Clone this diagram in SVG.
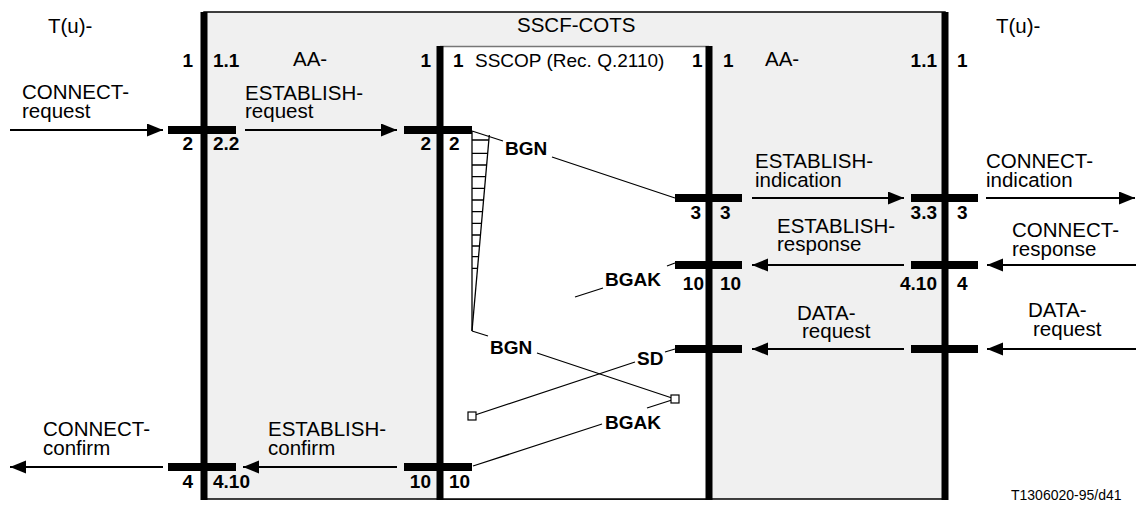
<svg xmlns="http://www.w3.org/2000/svg" width="1136" height="507" viewBox="0 0 1136 507">
<defs>
<marker id="ah" markerUnits="userSpaceOnUse" markerWidth="17" markerHeight="14" refX="16" refY="6.5" orient="auto">
<path d="M0,0 L16,6.5 L0,13 z" fill="#000"/>
</marker>
<style>
text{font-family:"Liberation Sans",Arial,sans-serif;fill:#000}
.t{font-size:20.5px}
.n{font-size:19px;font-weight:bold}
.m{font-size:19px;font-weight:bold}
.e{text-anchor:end}
.life{stroke:#000;stroke-width:7}
.bar{stroke:#000;stroke-width:8}
.arr{stroke:#000;stroke-width:2;fill:none;marker-end:url(#ah)}
.msg{stroke:#000;stroke-width:1.3;fill:none}
.sq{fill:#fff;stroke:#000;stroke-width:1.2}
</style>
</defs>
<rect width="1136" height="507" fill="#fff"/>

<g id="sscf-cots">
<rect x="204" y="12" width="741" height="487" fill="#f0f0f0" stroke="#000" stroke-width="1.5"/>
<text class="t" x="517" y="32">SSCF-COTS</text>
</g>

<g id="sscop">
<rect x="440" y="46" width="269" height="453" fill="#fff"/>
<line x1="440" y1="46.5" x2="709" y2="46.5" stroke="#777" stroke-width="1.5"/>
<line x1="440" y1="499" x2="709" y2="499" stroke="#000" stroke-width="1.5"/>
<text x="453" y="67"><tspan class="n">1</tspan><tspan class="t" x="475" style="font-size:19px">SSCOP (Rec. Q.2110)</tspan></text>
<text class="n" x="692" y="67">1</text>
</g>

<g id="tu-left">
<text class="t" x="48" y="33">T(u)-</text>
<line class="life" x1="204" y1="12" x2="204" y2="500"/>
<text class="n e" x="193" y="67">1</text>
<text class="n" x="213" y="67">1.1</text>
<line class="bar" x1="168" y1="130" x2="236" y2="130"/>
<text class="n e" x="193" y="150">2</text>
<text class="n" x="213" y="150">2.2</text>
<line class="bar" x1="168" y1="467" x2="236" y2="467"/>
<text class="n e" x="193" y="488">4</text>
<text class="n" x="213" y="488">4.10</text>
</g>

<g id="aa-left">
<text class="t" x="293" y="66">AA-</text>
</g>

<g id="sscop-left">
<line class="life" x1="440" y1="46" x2="440" y2="500"/>
<text class="n e" x="431" y="67">1</text>
<line class="bar" x1="404" y1="130" x2="472" y2="130"/>
<text class="n e" x="431" y="150">2</text>
<text class="n" x="449" y="150">2</text>
<line class="bar" x1="404" y1="467" x2="472" y2="467"/>
<text class="n e" x="431" y="488">10</text>
<text class="n" x="449" y="488">10</text>
</g>

<g id="sscop-right">
<line class="life" x1="709" y1="46" x2="709" y2="500"/>
<text class="n" x="723" y="67">1</text>
<line class="bar" x1="675" y1="198" x2="742" y2="198"/>
<text class="n e" x="701" y="219">3</text>
<text class="n" x="720" y="219">3</text>
<line class="bar" x1="675" y1="265" x2="742" y2="265"/>
<text class="n e" x="704" y="290">10</text>
<text class="n" x="720" y="290">10</text>
<line class="bar" x1="675" y1="349" x2="742" y2="349"/>
</g>

<g id="aa-right">
<text class="t" x="765" y="66">AA-</text>
</g>

<g id="tu-right">
<text class="t" x="996" y="33">T(u)-</text>
<line class="life" x1="945" y1="12" x2="945" y2="500"/>
<text class="n e" x="937" y="67">1.1</text>
<text class="n" x="957" y="67">1</text>
<line class="bar" x1="911" y1="198" x2="978" y2="198"/>
<text class="n e" x="937" y="219">3.3</text>
<text class="n" x="957" y="219">3</text>
<line class="bar" x1="911" y1="265" x2="978" y2="265"/>
<text class="n e" x="937" y="290">4.10</text>
<text class="n" x="957" y="290">4</text>
<line class="bar" x1="911" y1="349" x2="978" y2="349"/>
</g>

<g id="connectors">
<line class="arr" x1="10" y1="130" x2="163" y2="130"/>
<line class="arr" x1="245" y1="130" x2="397" y2="130"/>
<line class="arr" x1="752" y1="198" x2="904" y2="198"/>
<line class="arr" x1="986" y1="198" x2="1135" y2="198"/>
<line class="arr" x1="904" y1="265" x2="752" y2="265"/>
<line class="arr" x1="1136" y1="265" x2="987" y2="265"/>
<line class="arr" x1="904" y1="349" x2="752" y2="349"/>
<line class="arr" x1="1136" y1="349" x2="987" y2="349"/>
<line class="arr" x1="397" y1="467" x2="243" y2="467"/>
<line class="arr" x1="163" y1="467" x2="10" y2="467"/>

<g id="timer">
<line class="msg" x1="472" y1="131" x2="472" y2="331"/>
<line class="msg" x1="489.3" y1="135" x2="472" y2="331"/>
<path class="msg" d="M472,140H488.9M472,153.3H487.7M472,165H486.7M472,176.7H485.6M472,188.3H484.6M472,200H483.6M472,211.7H482.5M472,223.3H481.5M472,235H480.5M472,246H479.5M472,256.7H478.5M472,268.3H477.5"/>
</g>
<path class="msg" d="M472,131L503,141M552,157L675,198"/>
<path class="msg" d="M675,263L667,266M603,288L575,297"/>
<path class="msg" d="M472,331L488,336M537,353L675,399"/>
<path class="msg" d="M675,349L665,352M635,362L472,416"/>
<path class="msg" d="M473,466L602,424M647,408L675,399"/>
<rect class="sq" x="671" y="395" width="8" height="8"/>
<rect class="sq" x="468" y="412" width="8" height="8"/>
</g>

<g id="labels">
<text class="t" x="22" y="99">CONNECT-<tspan x="22" dy="19">request</tspan></text>
<text class="t" x="245" y="100">ESTABLISH-<tspan x="245" dy="18">request</tspan></text>
<text class="t" x="755" y="168">ESTABLISH-<tspan x="755" dy="19">indication</tspan></text>
<text class="t" x="986" y="168">CONNECT-<tspan x="986" dy="19">indication</tspan></text>
<text class="t" x="777" y="233">ESTABLISH-<tspan x="777" dy="18">response</tspan></text>
<text class="t" x="1012" y="237">CONNECT-<tspan x="1012" dy="19">response</tspan></text>
<text class="t" x="797" y="320">DATA-<tspan x="802" dy="18">request</tspan></text>
<text class="t" x="1028" y="317">DATA-<tspan x="1033" dy="19">request</tspan></text>
<text class="t" x="43" y="436">CONNECT-<tspan x="43" dy="19">confirm</tspan></text>
<text class="t" x="268" y="436">ESTABLISH-<tspan x="268" dy="19">confirm</tspan></text>
<text class="m" x="505" y="155">BGN</text>
<text class="m" x="605" y="286">BGAK</text>
<text class="m" x="490" y="354">BGN</text>
<text class="m" x="637" y="365">SD</text>
<text class="m" x="605" y="429">BGAK</text>
<text x="1011" y="500" style="font-size:14px">T1306020-95/d41</text>
</g>
</svg>
